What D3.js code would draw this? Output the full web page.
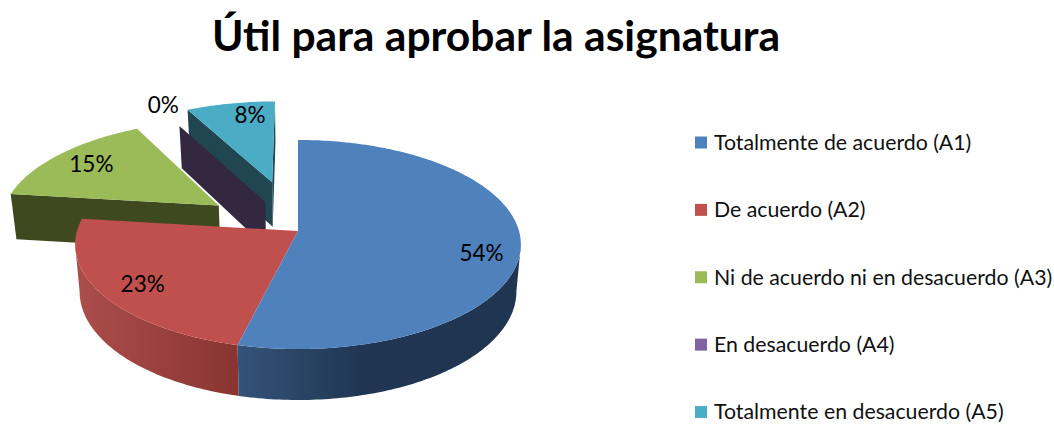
<!DOCTYPE html>
<html>
<head>
<meta charset="utf-8">
<script src="https://cdn.jsdelivr.net/npm/d3@7"></script>
<style>
body{margin:0;background:white}
svg{display:block}
</style>
</head>
<body>
<svg></svg>
<script>
var w = 1054
var h = 425

var titleText = "Útil para aprobar la asignatura"
var categories = ["Totalmente de acuerdo (A1)","De acuerdo (A2)","Ni de acuerdo ni en desacuerdo (A3)","En desacuerdo (A4)","Totalmente en desacuerdo (A5)"]
// answers out of 13, that is what the rounded percentages come from
var values = [7,3,2,0,1]
var valueLabels = ["54%","23%","15%","0%","8%"]

var topColors = ["#4f81bd","#c0504d","#9bbb59","#8064a2","#4bacc6"]
var wallColors = ["#1f3552","#8a3532","#3f4920","#342841","#1f4651"]
// how far each slice is pulled out of the pie, 1 = one radius
var explode = [0,0,0.45,0.33,0.52]
var labelNudge = [[17,13],[-11,7],[-6,-2],[-36,-38],[10,-7]]

// camera
var cx = 298
var cy = 231
var rx = 221
var ry = 102.8
var persp = 0.129
var depth = 47.4
var bottomScale = 0.98

var svg = d3.select("svg")
	.attr("width",w)
	.attr("height",h)
	.style("background-color","white")

function project(u,v,low){
	var s = 1/(1-persp*v)
	var b = low ? bottomScale : 1
	var d = low ? depth : 0
	return [cx + rx*u*s*b, cy + (ry*v + d)*s*b]
}

// a is clockwise from 12 o'clock, disc coordinates with v towards the viewer
function discPoint(slice,a,r,low){
	var mid = (slice.startAngle+slice.endAngle)/2
	var e = explode[slice.index]
	return project(e*Math.sin(mid) + r*Math.sin(a), -e*Math.cos(mid) - r*Math.cos(a), low)
}

var pie = d3.pie().sort(null)
var slices = pie(values)

var line = d3.line().curve(d3.curveLinear)

function arcAngles(a0,a1){
	var n = Math.max(2,Math.ceil((a1-a0)*60))
	return d3.range(n+1).map(function(i){ return a0+(a1-a0)*i/n })
}

var defs = svg.append("defs")

var blueGrad = defs.append("linearGradient").attr("id","wall0")
blueGrad.append("stop").attr("offset","0").attr("stop-color","#345379")
blueGrad.append("stop").attr("offset","0.45").attr("stop-color","#1f3552")
blueGrad.append("stop").attr("offset","1").attr("stop-color","#1f3552")

var redGrad = defs.append("linearGradient").attr("id","wall1")
redGrad.append("stop").attr("offset","0").attr("stop-color","#ac4e4b")
redGrad.append("stop").attr("offset","1").attr("stop-color","#893431")

// front of the pie comes last
var drawOrder = [4,3,2,1,0]
var silhouette = Math.asin(persp)

var pieGroup = svg.append("g")

drawOrder.forEach(function(i){
	var sl = slices[i]
	var g = pieGroup.append("g").attr("class","slice")

	if(explode[i] > 0){
		var wallA = [discPoint(sl,sl.startAngle,0),discPoint(sl,sl.startAngle,1),discPoint(sl,sl.startAngle,1,true),discPoint(sl,sl.startAngle,0,true)]
		var wallB = [discPoint(sl,sl.endAngle,0),discPoint(sl,sl.endAngle,1),discPoint(sl,sl.endAngle,1,true),discPoint(sl,sl.endAngle,0,true)]
		if(d3.polygonArea(wallA) > 0){
			g.append("path").attr("d",line(wallA)+"Z").attr("fill",wallColors[i])
		}
		if(d3.polygonArea(wallB) < 0){
			g.append("path").attr("d",line(wallB)+"Z").attr("fill",wallColors[i])
		}
	}

	// outer wall, only the part turned to the viewer
	var from = Math.max(sl.startAngle, Math.PI/2+silhouette)
	var to = Math.min(sl.endAngle, Math.PI*3/2-silhouette)
	if(to > from){
		var angles = arcAngles(from,to)
		var rim = angles.map(function(a){ return discPoint(sl,a,1) })
		var low = angles.map(function(a){ return discPoint(sl,a,1,true) }).reverse()
		g.append("path")
			.attr("d",line(rim.concat(low))+"Z")
			.attr("fill",(i<2) ? "url(#wall"+i+")" : wallColors[i])
	}

	if(sl.endAngle > sl.startAngle){
		var top = [discPoint(sl,0,0)].concat(arcAngles(sl.startAngle,sl.endAngle).map(function(a){ return discPoint(sl,a,1) }))
		g.append("path").attr("d",line(top)+"Z").attr("fill",topColors[i])
	}
})

var fontName = "Lato, 'Open Sans', sans-serif"

svg.append("g").selectAll("text")
	.data(slices)
	.join("text")
	.attr("x",function(d){
		var mid = (d.startAngle+d.endAngle)/2
		return discPoint(d,mid,0.75)[0] + labelNudge[d.index][0]
	})
	.attr("y",function(d){
		var mid = (d.startAngle+d.endAngle)/2
		return discPoint(d,mid,0.75)[1] + labelNudge[d.index][1]
	})
	.attr("dy","0.35em")
	.attr("text-anchor","middle")
	.attr("font-family",fontName)
	.attr("font-size",22.5)
	.attr("fill","#000")
	.text(function(d,i){ return valueLabels[i] })

svg.append("text")
	.attr("x",496)
	.attr("y",51)
	.attr("text-anchor","middle")
	.attr("font-family",fontName)
	.attr("font-weight",700)
	.attr("font-size",42.6)
	.attr("fill","#000")
	.text(titleText)

var legendY = d3.scalePoint()
	.domain(categories)
	.range([142.5,412])

var legend = svg.append("g").selectAll("g")
	.data(categories)
	.join("g")
	.attr("transform",function(d){ return "translate(695,"+legendY(d)+")" })

legend.append("rect")
	.attr("y",-6)
	.attr("width",12)
	.attr("height",12)
	.attr("fill",function(d,i){ return topColors[i] })

legend.append("text")
	.attr("x",19)
	.attr("dy","0.35em")
	.attr("font-family",fontName)
	.attr("font-size",21.3)
	.attr("fill","#111")
	.text(function(d){ return d })
</script>
</body>
</html>
